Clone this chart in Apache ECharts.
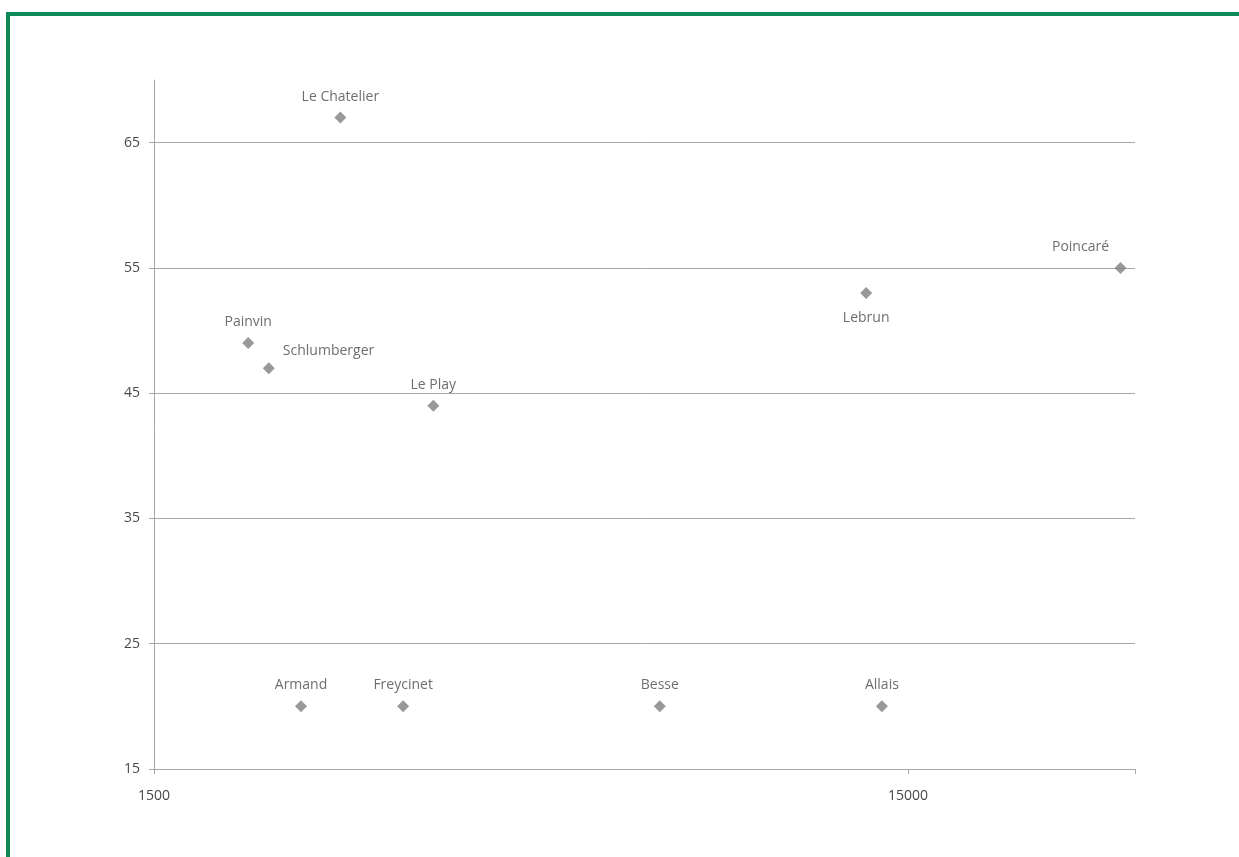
<!DOCTYPE html>
<html>
<head>
<meta charset="utf-8">
<script src="https://cdn.jsdelivr.net/npm/echarts@6/dist/echarts.min.js"></script>
<style>
html,body{margin:0;padding:0;background:#fff;}
#frame{position:absolute;left:6px;top:12px;width:1233px;height:845px;border-top:4px solid #0b8a57;border-left:4px solid #0b8a57;box-sizing:border-box;}
#chart{position:absolute;left:0;top:0;width:1239px;height:857px;}
</style>
</head>
<body>
<div id="frame"></div>
<div id="chart"></div>
<script>
const names = ['Le Chatelier','Poincaré','Lebrun','Painvin','Schlumberger','Le Play','Armand','Freycinet','Besse','Allais'];
const xValues = [2650, 28700, 13200, 2000, 2130, 3520, 2350, 3210, 7030, 13850];
const yValues = [67, 55, 53, 49, 47, 44, 20, 20, 20, 20];
const labelSides = ['top','topLeft','bottom','top','topRight','top','top','top','top','top'];
const xTicks = [1500, 15000];
const yTicks = [15, 25, 35, 45, 55, 65];

const labelStyles = {
  top: {position:'top', distance:8},
  bottom: {position:'bottom', distance:12},
  topLeft: {position:'top', distance:8, offset:[-40,0]},
  topRight: {position:'right', distance:8, offset:[0,-17]}
};

const txt = {color:'#484848', fontFamily:'Open Sans', fontSize:14};

const data = names.map((n,i)=>({
  value:[xValues[i], yValues[i]],
  name:n,
  label: Object.assign({show:true, formatter:n}, txt, labelStyles[labelSides[i]])
}));

const chart = echarts.init(document.getElementById('chart'), null, {renderer:'canvas'});
const lineColor = '#a6a6a6';
chart.setOption({
  animation:false,
  backgroundColor:'transparent',
  grid:{left:154, right:104, top:80, bottom:88, containLabel:false},
  xAxis:{
    type:'log', logBase:10, min:1500, max:30000,
    axisLine:{show:true, lineStyle:{color:lineColor, width:1}},
    axisTick:{show:true, length:5, lineStyle:{color:lineColor}, customValues:[1500,15000,30000]},
    axisLabel:Object.assign({margin:20, customValues:xTicks, formatter:v=>String(Math.round(v))}, txt),
    splitLine:{show:false}
  },
  yAxis:{
    type:'value', min:15, max:70,
    axisLine:{show:true, lineStyle:{color:lineColor, width:1}},
    axisTick:{show:true, length:5, lineStyle:{color:lineColor}, customValues:yTicks},
    axisLabel:Object.assign({margin:14, customValues:yTicks}, txt),
    splitLine:{show:true, lineStyle:{color:lineColor, width:1}}
  },
  series:[{
    type:'scatter',
    symbol:'diamond',
    symbolSize:12,
    itemStyle:{color:'#7f7f7f'},
    label:Object.assign({show:true}, txt),
    data:data
  }]
});
</script>
</body>
</html>
